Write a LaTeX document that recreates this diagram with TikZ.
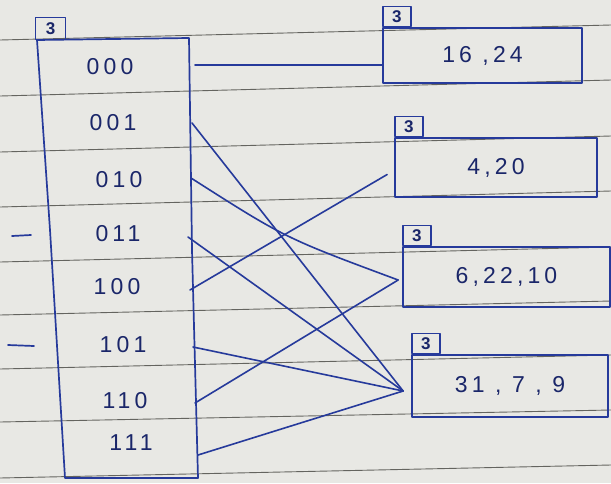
\documentclass[tikz,border=0pt]{standalone}
\usepackage{fontspec}
\setmainfont{Liberation Sans}
\newfontfamily\hand[LetterSpace=18]{Liberation Sans}
\definecolor{paper}{RGB}{232,232,228}
\definecolor{ruleline}{RGB}{100,100,95}
\definecolor{ink}{RGB}{38,58,155}
\definecolor{inktext}{RGB}{26,38,105}
\begin{document}
\begin{tikzpicture}[x=1pt,y=-1pt,
  inkline/.style={draw=ink, line width=1.7pt, line cap=round, line join=round},
  lbl/.style={text=inktext, font=\hand\fontsize{23}{26}\selectfont},
  bucket/.style={inkline, rectangle, inner sep=0pt, text=inktext, font=\hand\fontsize{23}{26}\selectfont},
  tag/.style={inkline, line width=1.4pt, rectangle, inner sep=0pt, minimum width=28pt, minimum height=20pt, text=inktext, font=\bfseries\fontsize{17}{17}\selectfont, anchor=south west},
  link/.style={draw=ink, line width=1.6pt, line cap=round}]
\useasboundingbox (0,0) rectangle (611,483);
\fill[paper] (0,0) rectangle (611,483);
\foreach \l/\r in {40/25, 96/80, 152/136, 207/191, 262/247, 315/301, 369/355, 422/410, 478/465}
  \draw[ruleline, line width=0.9pt] (0,\l) -- (611,\r);
% directory
\draw[inkline] (37,40) -- (50,230) -- (65,478) -- (198,478) -- (192,250) -- (189,38) -- cycle;
\node[tag, minimum width=30pt, minimum height=22pt] (dtag) at (35,40) {3};
\node[lbl] (t0) at (110,67) {000};
\node[lbl] (t1) at (113,123) {001};
\node[lbl] (t2) at (119,180) {010};
\node[lbl] (t3) at (118,234) {011};
\node[lbl] (t4) at (117,287) {100};
\node[lbl] (t5) at (123,345) {101};
\node[lbl] (t6) at (125,401) {110};
\node[lbl] (t7) at (131,443) {111};
\draw[inkline] (12,236) -- (31,235);
\draw[inkline] (8,345) -- (34,346);
\coordinate (d0) at (195,65);
\coordinate (d1) at (192,123);
\coordinate (d2) at (191,178);
\coordinate (d3) at (188,237);
\coordinate (d4) at (190,290);
\coordinate (d5) at (193,347);
\coordinate (d6) at (195,403);
\coordinate (d7) at (198,455);
% buckets
\node[bucket, minimum width=199pt, minimum height=55pt] (b1) at (482.5,55.5) {16 ,24};
\node[tag] (g1) at (b1.north west) {3};
\node[bucket, minimum width=202pt, minimum height=59pt] (b2) at (496,167.5) {4,20};
\node[tag] (g2) at (b2.north west) {3};
\node[bucket, minimum width=207pt, minimum height=60pt] (b3) at (506.5,277) {6,22,10};
\node[tag] (g3) at (b3.north west) {3};
\node[bucket, minimum width=196pt, minimum height=62pt] (b4) at (510,386) {31 , 7 , 9};
\node[tag] (g4) at (b4.north west) {3};
% pointers
\draw[link] (d0) -- (d0 -| b1.west);
\draw[link] (d1) -- ([shift={(-8,5)}]b4.west);
\draw[link] (d2) .. controls (285,238) .. ([shift={(-4,3)}]b3.west);
\draw[link] (d3) -- ([shift={(-8,5)}]b4.west);
\draw[link] (d4) -- ([shift={(-7,7)}]b2.west);
\draw[link] (d5) -- ([shift={(-8,5)}]b4.west);
\draw[link] (d6) -- ([shift={(-4,3)}]b3.west);
\draw[link] (d7) -- ([shift={(-8,5)}]b4.west);
\end{tikzpicture}
\end{document}
